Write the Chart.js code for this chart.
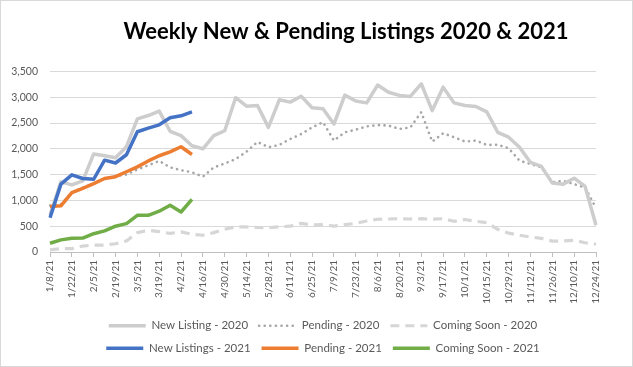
<!DOCTYPE html>
<html>
<head>
<meta charset="utf-8">
<script src="https://cdn.jsdelivr.net/npm/chart.js@4.4.1/dist/chart.umd.min.js"></script>
<style>
  body { margin: 0; background: #fff; }
  #wrap { position: relative; width: 633px; height: 367px; }
  #frame { position: absolute; left: 0; top: 0; width: 633px; height: 367px; box-sizing: border-box; border: 1px solid #d9d9d9; pointer-events: none; }
</style>
</head>
<body>
<div id="wrap">
  <canvas id="listingsChart" width="633" height="367"></canvas>
  <div id="frame"></div>
</div>
<script>
// Weeks (Fridays) 2021
const weeks = ['1/8/21', '1/15/21', '1/22/21', '1/29/21', '2/5/21', '2/12/21', '2/19/21', '2/26/21',
  '3/5/21', '3/12/21', '3/19/21', '3/26/21', '4/2/21', '4/9/21', '4/16/21', '4/23/21', '4/30/21',
  '5/7/21', '5/14/21', '5/21/21', '5/28/21', '6/4/21', '6/11/21', '6/18/21', '6/25/21', '7/2/21',
  '7/9/21', '7/16/21', '7/23/21', '7/30/21', '8/6/21', '8/13/21', '8/20/21', '8/27/21', '9/3/21',
  '9/10/21', '9/17/21', '9/24/21', '10/1/21', '10/8/21', '10/15/21', '10/22/21', '10/29/21',
  '11/5/21', '11/12/21', '11/19/21', '11/26/21', '12/3/21', '12/10/21', '12/17/21', '12/24/21'];

// 2020 series (full year)
const newListing2020 = [720, 1360, 1300, 1380, 1900, 1865, 1825, 2040, 2580, 2645, 2730, 2340, 2255, 2060, 2000,
  2255, 2350, 2990, 2825, 2840, 2415, 2950, 2905, 3020, 2795, 2775, 2480, 3040, 2925, 2890, 3235,
  3095, 3035, 3015, 3260, 2740, 3195, 2890, 2840, 2820, 2715, 2320, 2225, 2030, 1735, 1660, 1335,
  1315, 1430, 1270, 520];
const pending2020 = [900, 930, 1150, 1250, 1330, 1420, 1470, 1500, 1600, 1680, 1765, 1640, 1585, 1545, 1460,
  1640, 1715, 1800, 1945, 2135, 2030, 2075, 2190, 2285, 2415, 2515, 2160, 2320, 2370, 2435, 2460,
  2450, 2385, 2415, 2710, 2140, 2300, 2225, 2140, 2160, 2075, 2080, 2010, 1770, 1705, 1640, 1350,
  1380, 1315, 1250, 850];
const comingSoon2020 = [40, 65, 65, 115, 135, 135, 160, 215, 375, 420, 395, 360, 390, 345, 325,
  375, 440, 485, 485, 475, 470, 490, 500, 555, 525, 530, 500, 530, 555, 600, 635,
  640, 645, 640, 645, 635, 645, 595, 630, 595, 570, 440, 365, 325, 290, 265, 210,
  215, 225, 180, 150];

// 2021 series (through 4/9/21)
const newListings2021 = [665, 1315, 1495, 1425, 1410, 1780, 1725, 1885, 2330, 2400, 2465, 2600, 2640, 2715];
const pending2021 = [880, 895, 1150, 1235, 1325, 1425, 1460, 1555, 1650, 1765, 1865, 1940, 2040, 1890];
const comingSoon2021 = [170, 235, 265, 270, 355, 410, 500, 550, 710, 710, 790, 905, 775, 1020];

const yTicks = [0, 500, 1000, 1500, 2000, 2500, 3000, 3500];

const FONT = 'Lato, "Open Sans", sans-serif';
const tickGray = '#595959';
const axisGray = '#bfbfbf';

// shift the title right, like the original
const titleShift = {
  id: 'titleShift',
  afterLayout(chart) {
    const t = chart.titleBlock;
    if (t) { t.left += 48; t.right += 48; }
  }
};

const ctx = document.getElementById('listingsChart').getContext('2d');
const chart = new Chart(ctx, {
  type: 'line',
  data: {
    labels: weeks,
    datasets: [
      { label: 'New Listing - 2020', data: newListing2020, borderColor: '#cdcdcd', backgroundColor: '#cdcdcd',
        borderWidth: 3.5, order: 1 },
      { label: 'Pending - 2020', data: pending2020, borderColor: '#a6a6a6', backgroundColor: '#a6a6a6',
        borderWidth: 2.6, borderDash: [0.1, 5.5], borderCapStyle: 'round', order: 1 },
      { label: 'Coming Soon - 2020', data: comingSoon2020, borderColor: '#d6d6d6', backgroundColor: '#d6d6d6',
        borderWidth: 3.2, borderDash: [9, 6], order: 1 },
      { label: 'New Listings - 2021', data: newListings2021, borderColor: '#4472c4', backgroundColor: '#4472c4',
        borderWidth: 3.5, order: 0 },
      { label: 'Pending - 2021', data: pending2021, borderColor: '#ed7d31', backgroundColor: '#ed7d31',
        borderWidth: 3.5, order: 0 },
      { label: 'Coming Soon - 2021', data: comingSoon2021, borderColor: '#70ad47', backgroundColor: '#70ad47',
        borderWidth: 3.5, order: 0 }
    ]
  },
  options: {
    responsive: false,
    animation: false,
    elements: {
      point: { radius: 0, hoverRadius: 0 },
      line: { tension: 0, borderJoinStyle: 'round' }
    },
    layout: { padding: { left: 0, right: 37, top: 0, bottom: 3 } },
    scales: {
      x: {
        grid: {
          drawOnChartArea: false,
          drawTicks: true,
          tickLength: 5,
          color: (c) => (c.index % 2 === 0 ? axisGray : 'rgba(0,0,0,0)')
        },
        border: { color: axisGray },
        ticks: {
          autoSkip: false,
          minRotation: 90,
          maxRotation: 90,
          padding: 3,
          color: tickGray,
          font: { family: FONT, size: 10 },
          callback: function (v, i) { return i % 2 === 0 ? this.getLabelForValue(v) : ''; }
        },
        afterFit: (s) => { s.height = 57; }
      },
      y: {
        min: 0,
        max: 3500,
        afterBuildTicks: (s) => { s.ticks = yTicks.map(v => ({ value: v })); },
        grid: { color: '#d9d9d9', drawTicks: false },
        border: { display: false },
        ticks: {
          padding: 12,
          color: tickGray,
          font: { family: FONT, size: 10.5 },
          callback: (v) => v.toLocaleString('en-US')
        },
        afterFit: (s) => { s.width = 50; }
      }
    },
    plugins: {
      title: {
        display: true,
        text: 'Weekly New & Pending Listings 2020 & 2021',
        color: '#000',
        font: { family: FONT, size: 22, weight: 'bold' },
        padding: { top: 19, bottom: 26 }
      },
      legend: {
        position: 'bottom',
        fullSize: false,
        labels: {
          usePointStyle: true,
          pointStyle: 'line',
          pointStyleWidth: 37,
          padding: 11,
          color: tickGray,
          font: { family: FONT, size: 11.5 },
          sort: (a, b) => a.datasetIndex - b.datasetIndex,
          generateLabels: (chart) => {
            const items = Chart.defaults.plugins.legend.labels.generateLabels(chart);
            items.forEach(it => {
              const ds = chart.data.datasets[it.datasetIndex];
              it.lineDash = ds.borderDash || [];
              it.lineCap = ds.borderCapStyle || 'butt';
              it.lineWidth = ds.borderWidth;
            });
            return items;
          }
        }
      },
      tooltip: { enabled: false }
    }
  },
  plugins: [titleShift]
});
</script>
</body>
</html>
